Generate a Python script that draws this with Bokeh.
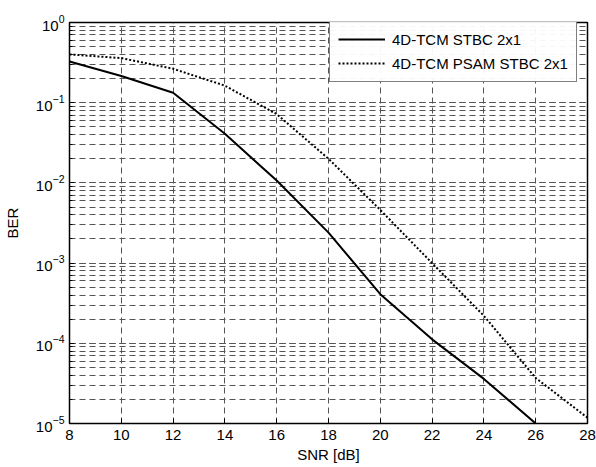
from bokeh.plotting import figure
from bokeh.models import SingleIntervalTicker, Range1d, Legend, LegendItem
from bokeh.embed import file_html
from bokeh.resources import INLINE

snr = [8, 10, 12, 14, 16, 18, 20, 22, 24, 26, 28]
ber_stbc = [0.327, 0.215, 0.133, 0.041, 0.0107, 0.0024, 0.00041, 0.000112, 0.000036, 0.00001]
snr_stbc = snr[:10]
ber_psam = [0.40, 0.36, 0.265, 0.163, 0.072, 0.020, 0.0046, 0.00100, 0.00022, 0.000037, 0.0000118]

FONT = "Liberation Sans"
FS = "15px"
GRID = "#555555"

p = figure(width=596, height=467, y_axis_type="log", output_backend="svg",
           toolbar_location=None, x_range=Range1d(8, 28), y_range=Range1d(1e-5, 1),
           min_border_left=67, min_border_right=9, min_border_top=22, min_border_bottom=44)
p.background_fill_color = "white"
p.border_fill_color = "white"
p.outline_line_color = "black"
p.outline_line_width = 1.5

xt = SingleIntervalTicker(interval=2, num_minor_ticks=0)
p.xaxis.ticker = xt
p.xaxis.axis_label = "SNR [dB]"
p.yaxis.axis_label = "BER"
for ax in (p.xaxis, p.yaxis):
    ax.major_label_text_font = FONT
    ax.major_label_text_font_size = FS
    ax.axis_label_text_font = FONT
    ax.axis_label_text_font_size = FS
    ax.axis_label_text_font_style = "normal"
    ax.major_tick_in = 5
    ax.major_tick_out = 0
    ax.minor_tick_in = 3
    ax.minor_tick_out = 0
    ax.axis_line_color = "black"
    ax.major_label_text_color = "black"
    ax.axis_label_text_color = "black"
p.xaxis.axis_label_standoff = 3
p.yaxis.axis_label_standoff = 12
p.xaxis.major_label_standoff = 6
p.yaxis.major_label_standoff = 5

p.xgrid.ticker = xt
p.xgrid.grid_line_color = GRID
p.xgrid.grid_line_dash = "6 4"
p.ygrid.grid_line_color = GRID
p.ygrid.grid_line_dash = "6 4"
p.ygrid.minor_grid_line_color = GRID
p.ygrid.minor_grid_line_dash = "6 4"

r1 = p.line(snr_stbc, ber_stbc, line_color="black", line_width=2)
r2 = p.line(snr, ber_psam, line_color="black", line_width=2, line_dash="2 2")

legend = Legend(items=[LegendItem(label="4D-TCM STBC 2x1", renderers=[r1]),
                       LegendItem(label="4D-TCM PSAM STBC 2x1", renderers=[r2])],
                location=(260, 341))
legend.label_text_font = FONT
legend.label_text_font_size = FS
legend.label_text_color = "black"
legend.border_line_color = "black"
legend.border_line_width = 1
legend.glyph_width = 47
legend.spacing = 4
legend.padding = 8
legend.margin = 0
legend.label_standoff = 7
p.add_layout(legend)

open("out.html", "w").write(file_html(p, INLINE))
